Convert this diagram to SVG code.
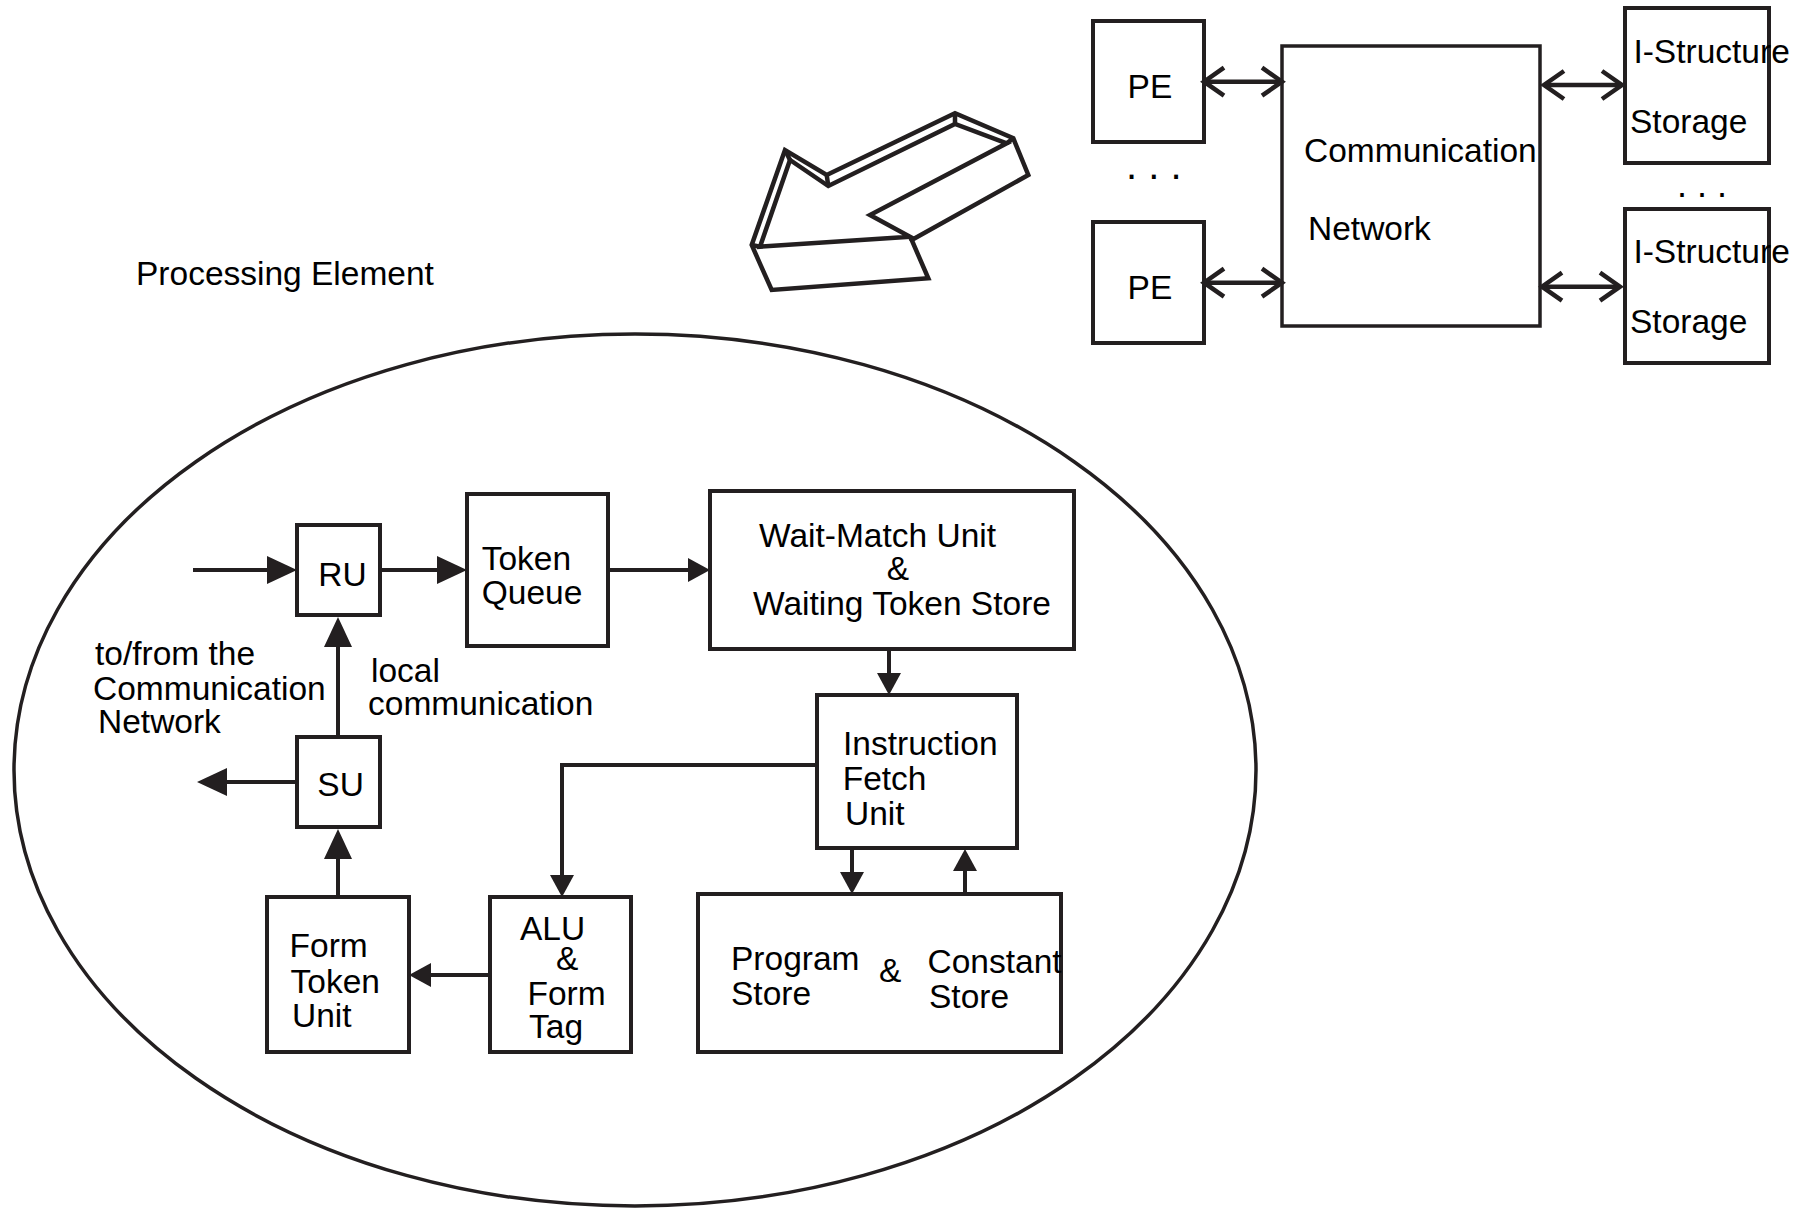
<svg xmlns="http://www.w3.org/2000/svg" width="1805" height="1209" viewBox="0 0 1805 1209">
<style>
  .box{fill:#fff;stroke:#231f20;stroke-width:4}
  .t{font-family:"Liberation Sans",Arial,Helvetica,sans-serif;font-size:33.5px;fill:#000}
  .c{fill:none;stroke:#231f20;stroke-width:4}
  .big{marker-end:url(#big)}
  .sm{marker-end:url(#small)}
  .dbl{fill:none;stroke:#231f20;stroke-width:4.5;marker-start:url(#chev);marker-end:url(#chev)}
  .shape{fill:#fff;stroke:#231f20;stroke-width:4.5;stroke-linejoin:miter}
</style>
<defs>
  <marker id="big" markerUnits="userSpaceOnUse" viewBox="0 -15 31 30" refX="0" refY="0" markerWidth="31" markerHeight="30" orient="auto" overflow="visible">
    <path d="M0,-14 L30,0 L0,14 Z" fill="#231f20"/>
  </marker>
  <marker id="small" markerUnits="userSpaceOnUse" viewBox="0 -13 23 26" refX="0" refY="0" markerWidth="23" markerHeight="26" orient="auto" overflow="visible">
    <path d="M0,-12 L22,0 L0,12 Z" fill="#231f20"/>
  </marker>
  <marker id="chev" markerUnits="userSpaceOnUse" viewBox="-24 -17 26 34" refX="0" refY="0" markerWidth="26" markerHeight="34" orient="auto-start-reverse" overflow="visible">
    <path d="M-20,-14 L0,0 L-20,14" fill="none" stroke="#231f20" stroke-width="4.5"/>
  </marker>
</defs>
<rect width="1805" height="1209" fill="#fff"/>

<!-- Processing element boundary -->
<g id="pe-boundary">
  <ellipse cx="635" cy="770" rx="621" ry="436" fill="none" stroke="#231f20" stroke-width="3.5"/>
  <text class="t" x="136" y="285">Processing Element</text>
</g>

<!-- 3D arrow -->
<g id="zoom-arrow">
  <polygon class="shape" points="785,150 751.7,245 771.7,290 928.3,278.3 911.7,240 1028.3,175 1013.3,138.3 955,113.3 826.7,175"/>
  <polygon class="shape" points="790,160 760,246.7 910,236.7 870,215 1006.7,143.3 955,124 828.3,186"/>
  <path d="M751.7,245 L760,246.7 M910,236.7 L911.7,240 M1006.7,143.3 L1013.3,138.3 M955,113.3 L955,124 M785,150 L790,160 M826.7,175 L828.3,186" fill="none" stroke="#231f20" stroke-width="4.5"/>
</g>

<!-- System level -->
<g id="pe1"><rect class="box" x="1093" y="21" width="111" height="121"/><text class="t" x="1127.6" y="98.3">PE</text></g>
<g id="pe2"><rect class="box" x="1093" y="222" width="111" height="121"/><text class="t" x="1127.6" y="299">PE</text></g>
<g id="pe-dots"><text class="t" x="1126" y="178.5" style="font-size:40px">. . .</text></g>
<g id="comm-net"><rect class="box" x="1282" y="46" width="258" height="280" style="stroke-width:3.5"/>
  <text class="t" x="1304" y="162.3">Communication</text>
  <text class="t" x="1308" y="240">Network</text></g>
<g id="is1"><rect class="box" x="1625" y="8" width="144" height="155"/>
  <text class="t" x="1633.4" y="62.7">I-Structure</text>
  <text class="t" x="1630" y="133.3">Storage</text></g>
<g id="is2"><rect class="box" x="1625" y="209" width="144" height="154"/>
  <text class="t" x="1633.4" y="263.3">I-Structure</text>
  <text class="t" x="1630" y="333.3">Storage</text></g>
<g id="is-dots"><text class="t" x="1677" y="197" style="font-size:36px">. . .</text></g>

<!-- PE internals -->
<g id="ru"><rect class="box" x="297" y="525" width="83" height="90"/><text class="t" x="318.3" y="586">RU</text></g>
<g id="token-queue"><rect class="box" x="467" y="494" width="141" height="152"/>
  <text class="t" x="481.7" y="570">Token</text><text class="t" x="481.7" y="604.3">Queue</text></g>
<g id="wait-match"><rect class="box" x="710" y="491" width="364" height="158"/>
  <text class="t" x="759" y="546.7">Wait-Match Unit</text>
  <text class="t" x="886.7" y="580">&amp;</text>
  <text class="t" x="753" y="615">Waiting Token Store</text></g>
<g id="ifu"><rect class="box" x="817" y="695" width="200" height="153"/>
  <text class="t" x="843" y="755">Instruction</text>
  <text class="t" x="842.7" y="790">Fetch</text>
  <text class="t" x="845" y="825">Unit</text></g>
<g id="su"><rect class="box" x="297" y="737" width="83" height="90"/><text class="t" x="317.3" y="796">SU</text></g>
<g id="form-token"><rect class="box" x="267" y="897" width="142" height="155"/>
  <text class="t" x="289.6" y="957">Form</text>
  <text class="t" x="290.6" y="993">Token</text>
  <text class="t" x="292" y="1026.7">Unit</text></g>
<g id="alu"><rect class="box" x="490" y="897" width="141" height="155"/>
  <text class="t" x="520" y="940">ALU</text>
  <text class="t" x="556" y="970">&amp;</text>
  <text class="t" x="527.5" y="1005">Form</text>
  <text class="t" x="529" y="1038">Tag</text></g>
<g id="program-store"><rect class="box" x="698" y="894" width="363" height="158"/>
  <text class="t" x="731" y="970">Program</text>
  <text class="t" x="731" y="1005">Store</text>
  <text class="t" x="879" y="982">&amp;</text>
  <text class="t" x="927.5" y="972.5">Constant</text>
  <text class="t" x="929" y="1008">Store</text></g>

<g id="labels">
  <text class="t" x="95" y="665">to/from the</text>
  <text class="t" x="93" y="700">Communication</text>
  <text class="t" x="98" y="733.3">Network</text>
  <text class="t" x="371" y="681.7">local</text>
  <text class="t" x="368" y="715">communication</text>
</g>

<g id="connectors">
  <line class="dbl" x1="1204" y1="81.7" x2="1282" y2="81.7"/>
  <line class="dbl" x1="1204" y1="282.7" x2="1282" y2="282.7"/>
  <line class="dbl" x1="1544" y1="85" x2="1622" y2="85"/>
  <line class="dbl" x1="1542" y1="286.7" x2="1620" y2="286.7"/>

  <line class="c big" x1="193" y1="570" x2="267" y2="570"/>
  <line class="c big" x1="380" y1="570" x2="437" y2="570"/>
  <line class="c sm" x1="608" y1="570" x2="688" y2="570"/>
  <line class="c sm" x1="889" y1="649" x2="889" y2="673"/>
  <polyline class="c sm" points="817,765 562,765 562,875"/>
  <line class="c sm" x1="852" y1="848" x2="852" y2="872"/>
  <line class="c sm" x1="965" y1="894" x2="965" y2="871"/>
  <line class="c sm" x1="490" y1="975" x2="431" y2="975"/>
  <line class="c big" x1="338" y1="897" x2="338" y2="859"/>
  <line class="c big" x1="297" y1="782" x2="227" y2="782"/>
  <line class="c big" x1="338" y1="737" x2="338" y2="647"/>
</g>
</svg>
